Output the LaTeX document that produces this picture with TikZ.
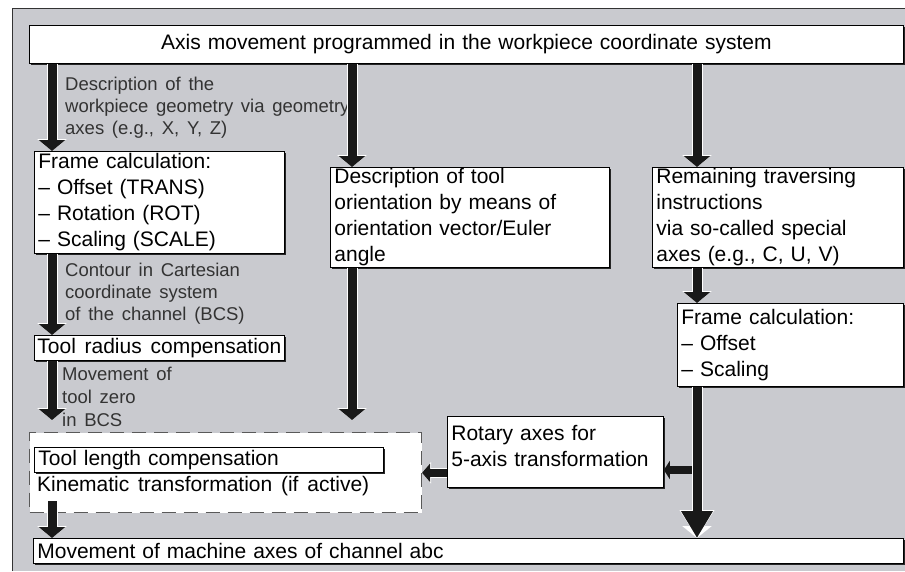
\documentclass[tikz,border=0pt]{standalone}
\usepackage{fontspec}
\setmainfont[WordSpace=1.5]{Liberation Sans}
\usetikzlibrary{positioning,arrows.meta,calc,shadows}
\definecolor{panelgray}{HTML}{C9CACF}

\begin{document}
\begin{tikzpicture}[x=1pt,y=-1pt,
  box/.style={draw=black,line width=0.8pt,fill=white,anchor=north west,align=left,
    inner xsep=4pt,inner ysep=0pt,font=\fontsize{21}{26}\selectfont,
    drop shadow={shadow xshift=1.2pt,shadow yshift=-2pt,fill=black!85,opacity=1}},
  note/.style={anchor=north west,align=left,inner sep=0pt,text=black!80,
    font=\fontsize{18.5}{22}\selectfont},
  flow/.style={draw=black!90,line width=9pt,-{Triangle[width=26pt,length=11pt]},
    preaction={draw=white,line width=11pt,-{Triangle[width=29pt,length=12pt]}}},
  flowbig/.style={flow,-{Triangle[width=30pt,length=27pt]},
    preaction={draw=white,line width=11pt,-{Triangle[width=33pt,length=28pt]}}},
  flowside/.style={draw=black!90,line width=8pt,-{Triangle[width=18pt,length=8pt]},
    preaction={draw=white,line width=10pt,-{Triangle[width=21pt,length=9pt]}}},
  branch/.style={draw=black!90,line width=8pt,-{Triangle[width=18pt,length=6pt]}}]
  \useasboundingbox (0,0) rectangle (905,571);
  \fill[panelgray] (12,8) rectangle (905,571);
  \draw[black!80,line width=1pt] (12,571) -- (12,8) -- (905,8);

  \node[box,align=center,minimum width=874,text width=866,minimum height=38] (top) at (29,25)
    {Axis movement programmed in the workpiece coordinate system};
  \node[box,minimum width=250,text width=242,minimum height=102] (frameL) at (34,151)
    {Frame calculation:\\-- Offset (TRANS)\\-- Rotation (ROT)\\-- Scaling (SCALE)};
  \node[box,minimum width=279,text width=271,minimum height=100] (orient) at (330,167)
    {Description of tool\\orientation by means of\\orientation vector/Euler\\angle};
  \node[box,minimum width=251,text width=243,minimum height=100] (remain) at (652,167)
    {Remaining traversing\\instructions\\via so-called special\\axes (e.g., C, U, V)};
  \node[box,minimum width=226,text width=218,minimum height=83] (frameR) at (677,303)
    {Frame calculation:\\-- Offset\\-- Scaling};
  \node[box,inner xsep=3pt,minimum width=248,minimum height=25] (radius) at (34,335)
    {Tool radius compensation};
  \node[box,minimum width=216,text width=208,minimum height=71] (rotary) at (447,416)
    {Rotary axes for\\5-axis transformation\\[-14pt]\mbox{}};
  \node[draw=black!65,fill=white,line width=1pt,dash pattern=on 14pt off 8pt,anchor=north west,
    minimum width=392,minimum height=80] (kin) at (29,432) {};
  \node[box,drop shadow={opacity=0},minimum width=349,text width=341,minimum height=25] (length) at (34,447)
    {Tool length compensation};
  \node[anchor=north west,inner sep=0pt,font=\fontsize{21}{26}\selectfont] (kintext) at (37,476)
    {Kinematic transformation (if active)};
  \node[box,minimum width=870,text width=862,minimum height=25] (machine) at (33,538)
    {Movement of machine axes of channel abc};

  \node[note] (geo) at (65,77) {Description of the\\workpiece geometry via geometry\\axes (e.g., X, Y, Z)};
  \node[note] (contour) at (65,263) {Contour in Cartesian\\coordinate system\\of the channel (BCS)};
  \node[note,font=\fontsize{18.5}{23}\selectfont] (zero) at (62,367) {Movement of\\tool zero\\in BCS};

  \coordinate (lx) at (52,0);
  \coordinate (mx) at (352,0);
  \coordinate (rx) at (697,0);
  \coordinate (split) at (697,470);

  \draw[flow] (top.south -| lx) -- (frameL.north -| lx);
  \draw[flow] (top.south -| mx) -- (orient.north -| mx);
  \draw[flow] (top.south -| rx) -- (remain.north -| rx);
  \draw[flow] (frameL.south -| lx) -- (radius.north -| lx);
  \draw[flow] (remain.south -| rx) -- (frameR.north -| rx);
  \draw[flow,shorten >=12pt] (radius.south -| lx) -- (kin.north -| lx);
  \draw[flow,shorten >=12pt] (orient.south -| mx) -- (kin.north -| mx);
  \draw[branch] (split) -- (rotary.east |- split);
  \draw[flowbig] (frameR.south -| rx) -- (machine.north -| rx);
  \draw[flowside] (rotary.west |- length.south) -- (kin.east |- length.south);
  \draw[flow] ($(kin.south -| lx)+(0,-12)$) -- (machine.north -| lx);
\end{tikzpicture}
\end{document}
